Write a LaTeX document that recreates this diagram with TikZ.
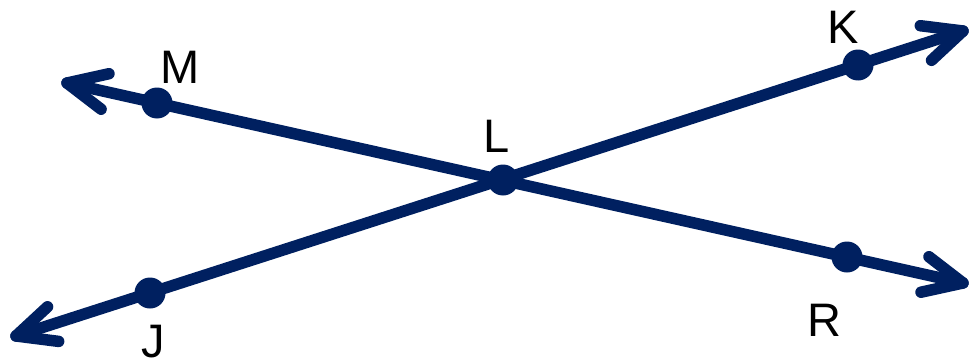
\documentclass[tikz,border=0pt]{standalone}
\usepackage{fontspec}
\setmainfont{Liberation Sans}
\usetikzlibrary{calc}
\definecolor{navy}{RGB}{0,32,96}
\tikzset{
  ray/.style={draw=navy, line width=11.5pt, line cap=round, line join=round},
  pt/.style={circle, fill=navy, minimum size=31pt, inner sep=0pt},
  lbl/.style={font=\fontsize{47}{47}\selectfont, text=black, inner sep=0pt},
}
\begin{document}
\begin{tikzpicture}[x=1pt,y=-1pt]
\useasboundingbox (0,0) rectangle (969,364);
% points
\coordinate (J) at (150,293);
\coordinate (K) at (858,65);
\coordinate (M) at (157,103);
\coordinate (R) at (847,257);
\coordinate (L) at (503,180);
\coordinate (tJ) at (16,336);
\coordinate (tK) at (963,31);
\coordinate (tM) at (67,83);
\coordinate (tR) at (963,283);
% lines
\draw[ray] (tJ) -- (tK);
\draw[ray] (tM) -- (tR);
% arrowheads
\draw[ray] ($(tJ)!43pt!25:(J)$) -- (tJ) -- ($(tJ)!43pt!-25:(J)$);
\draw[ray] ($(tK)!43pt!25:(K)$) -- (tK) -- ($(tK)!43pt!-25:(K)$);
\draw[ray] ($(tM)!43pt!25:(M)$) -- (tM) -- ($(tM)!43pt!-25:(M)$);
\draw[ray] ($(tR)!43pt!25:(R)$) -- (tR) -- ($(tR)!43pt!-25:(R)$);
% dots
\node[pt] (dJ) at (J) {};
\node[pt] (dK) at (K) {};
\node[pt] (dM) at (M) {};
\node[pt] (dR) at (R) {};
\node[pt] (dL) at (L) {};
% labels
\node[lbl] (lJ) at (153,342) {J};
\node[lbl] (lK) at (843,27) {K};
\node[lbl] (lM) at (180,67) {M};
\node[lbl] (lR) at (824,320) {R};
\node[lbl] (lL) at (497,136) {L};
\end{tikzpicture}
\end{document}
